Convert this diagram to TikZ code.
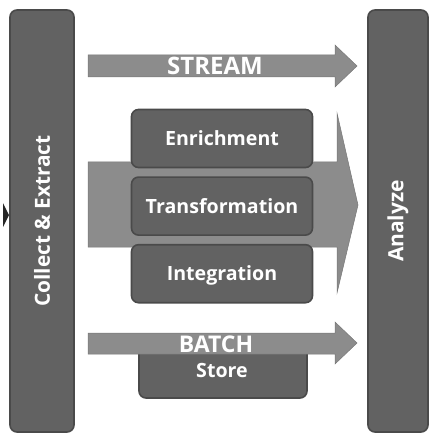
\documentclass[tikz,border=0pt]{standalone}
\usepackage{fontspec}
\setmainfont{Open Sans}
\usetikzlibrary{positioning}
\definecolor{tinta}{HTML}{4a4a4a}
\definecolor{fundo}{HTML}{626262}
\definecolor{fluxo}{HTML}{8c8c8c}
\begin{document}
\begin{tikzpicture}[x=1pt, y=-1pt, text=white,
  rotulo/.style={font=\bfseries\fontsize{19.6}{22}\selectfont, text height=14pt, text depth=0pt},
  titulo/.style={font=\bfseries\fontsize{23}{26}\selectfont, text height=16.4pt, text depth=0pt},
  barra/.style={draw=tinta, fill=fundo, line width=1.6pt, rounded corners=7pt, minimum width=64pt, minimum height=422pt},
  caixa/.style={draw=tinta, fill=fundo, line width=1.6pt, rounded corners=7pt, minimum width=181pt, minimum height=58pt, rotulo},
  seta/.style={fill=fluxo, draw=fluxo!85!black, line width=0.5pt}]
\useasboundingbox (0,0) rectangle (430,438);
% barras laterais
\node[barra] (coleta) at (42,221) {};
\node[rotate=90, font=\bfseries\fontsize{20.8}{24}\selectfont] at (coleta) {Collect \& Extract};
\node[barra, minimum width=60pt] (analise) at (398,221) {};
\node[rotate=90, font=\bfseries\fontsize{21}{24}\selectfont] at (analise) {Analyze};
\fill[black!85] (3,203) -- (9,215) -- (3,227) -- cycle;
% fluxo central
\draw[seta] (88,162) -- (337,162) -- (337,113) -- (358,205) -- (337,293) -- (337,247) -- (88,247) -- cycle;
\node[caixa] (enriq) at (222,138.5) {Enrichment};
\node[caixa, below=8pt of enriq] (transf) {Transformation};
\node[caixa, below=8pt of transf] (integ) {Integration};
% stream
\draw[seta] (88,55) -- (335,55) -- (335,45) -- (357,66) -- (335,87) -- (335,77) -- (88,77) -- cycle;
\node[titulo, font=\bfseries\fontsize{24}{26}\selectfont, text height=17.1pt] (stream) at (215,66) {STREAM};
% batch
\node[caixa, minimum width=168pt, minimum height=62pt] (armaz) at (223,367) {};
\node[rotulo] (store) at (222,370) {Store};
\draw[seta] (88,333) -- (335,333) -- (335,322) -- (357,343) -- (335,364) -- (335,354) -- (88,354) -- cycle;
\node[titulo] (batch) at (216,344.5) {BATCH};
\end{tikzpicture}
\end{document}
